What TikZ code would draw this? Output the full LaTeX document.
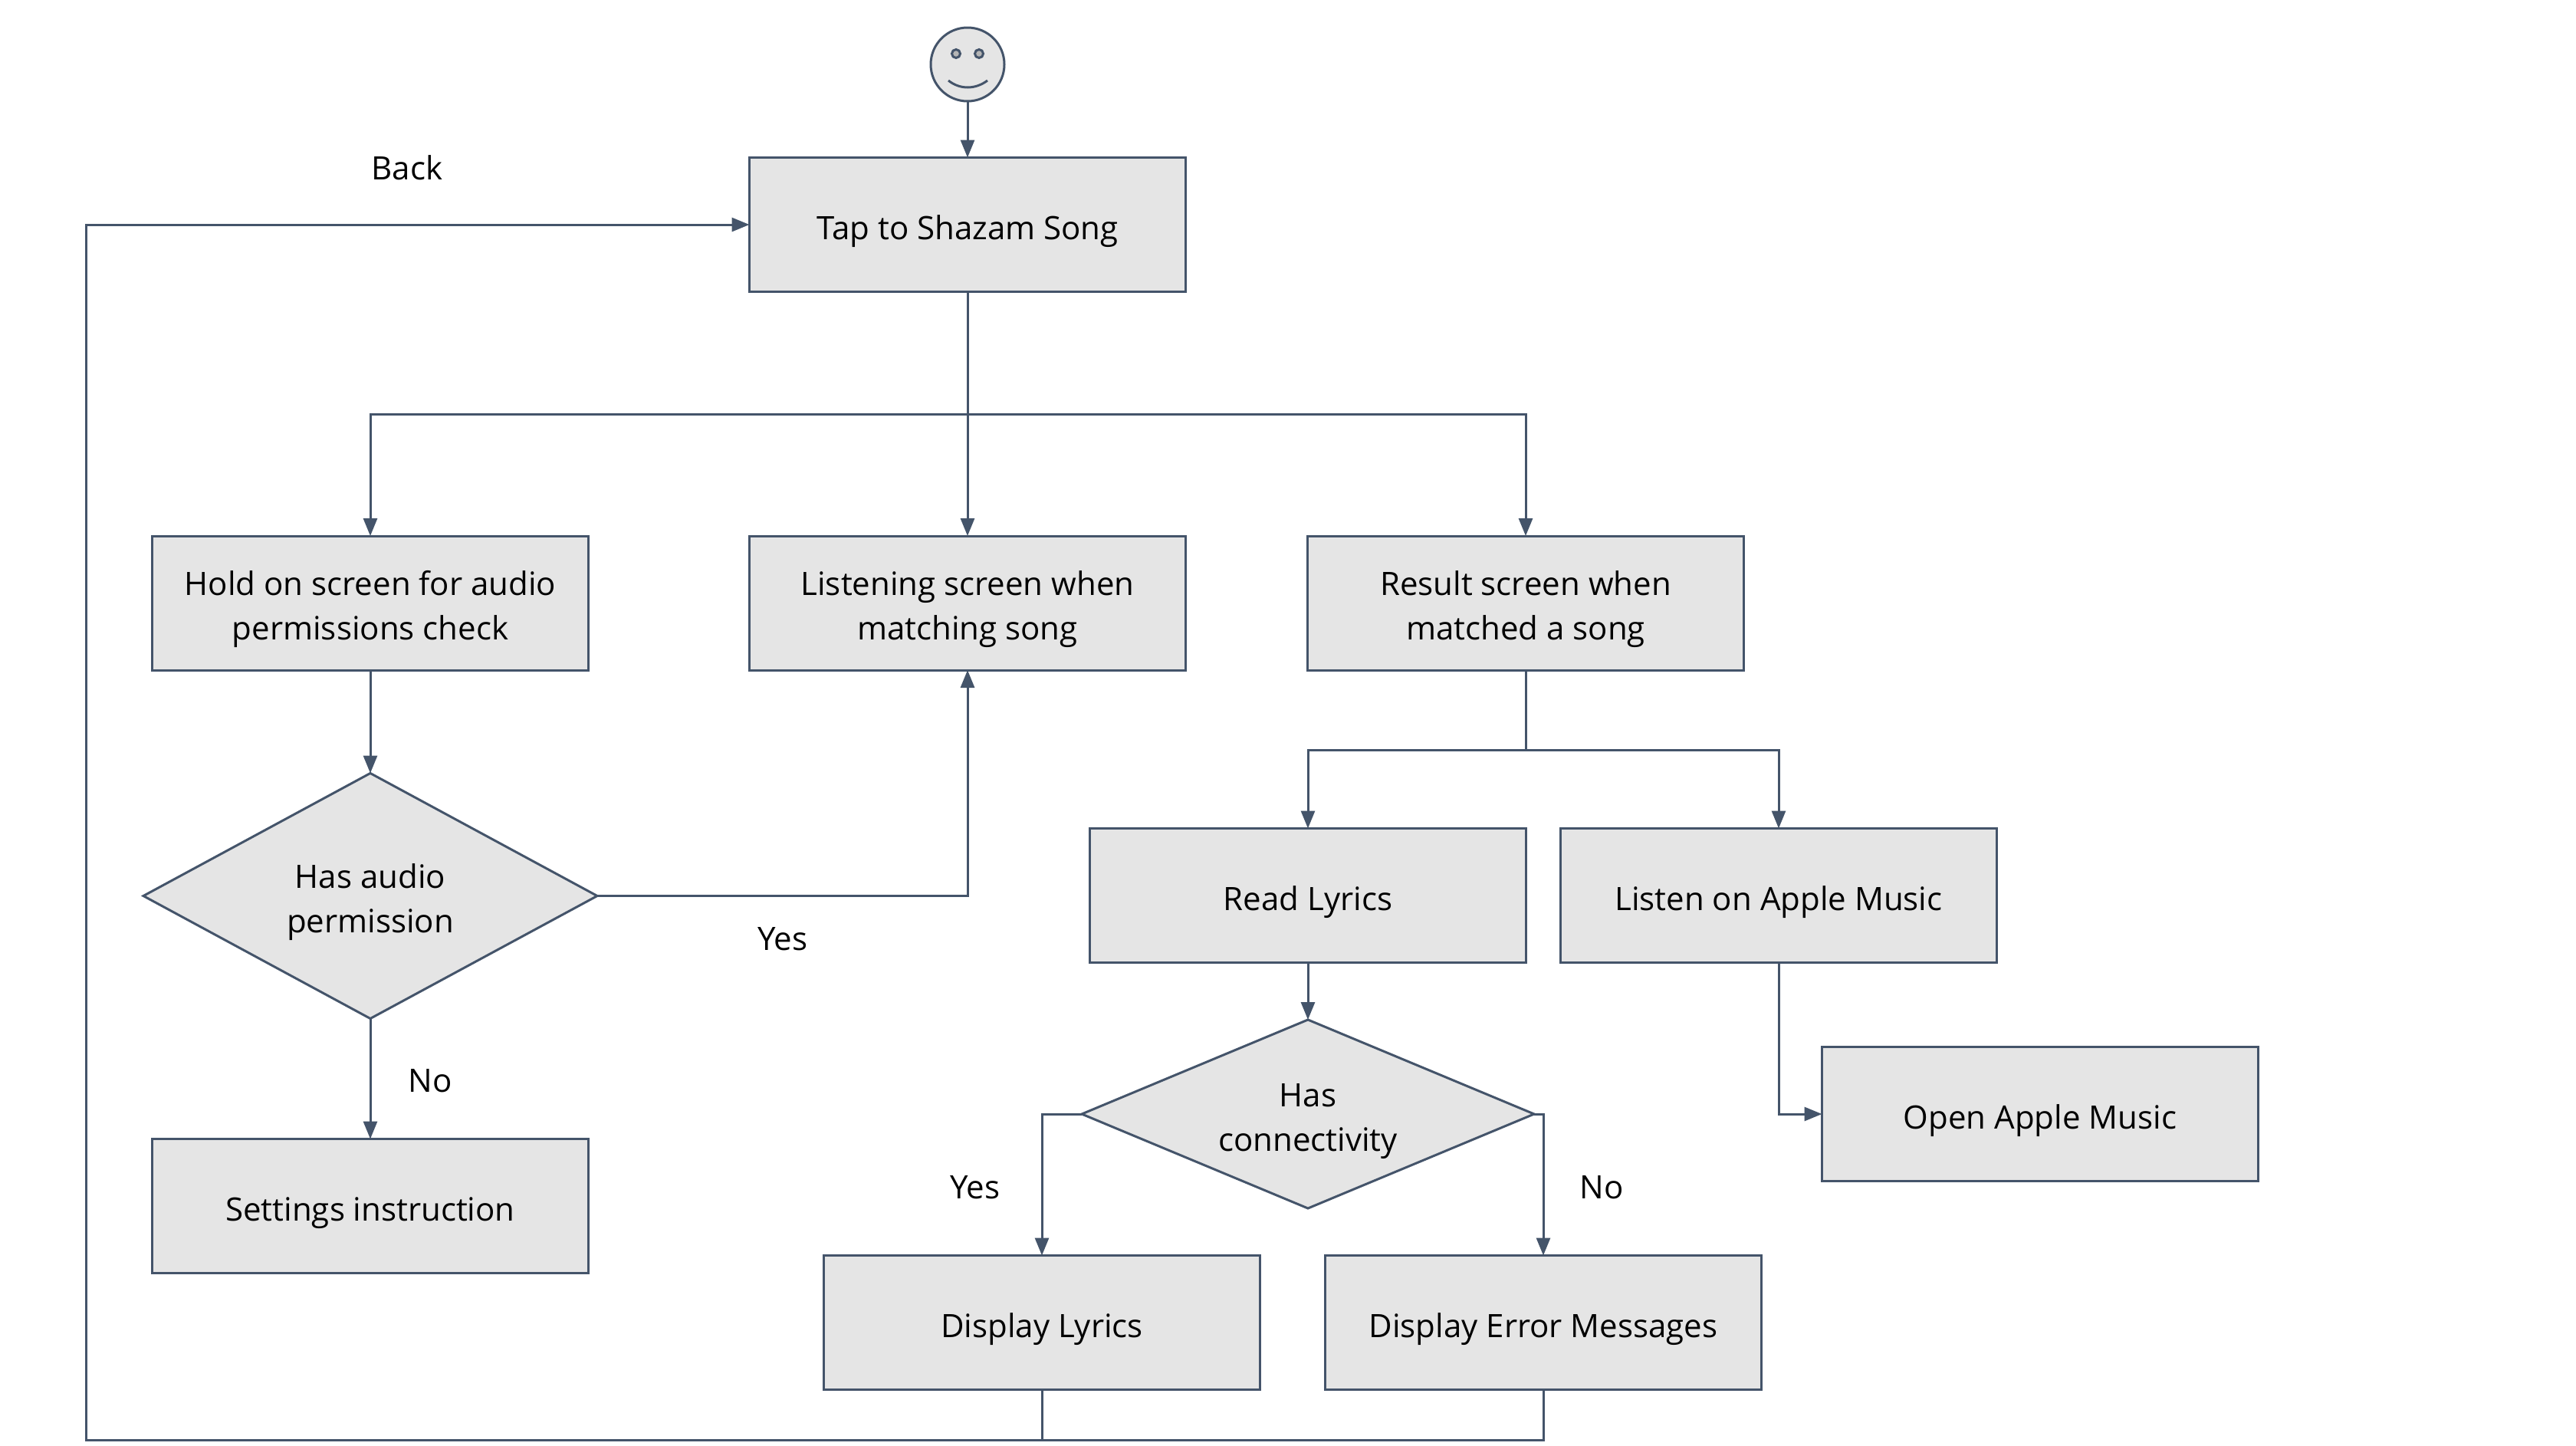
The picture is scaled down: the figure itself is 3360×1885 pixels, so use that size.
\documentclass[tikz,border=0pt]{standalone}
\usepackage{fontspec}
\setmainfont{Open Sans}
\usetikzlibrary{arrows.meta,shapes.geometric}
\definecolor{edge}{HTML}{44546A}
\definecolor{boxfill}{HTML}{E5E5E5}
\definecolor{eyefill}{HTML}{B5B5B5}
\newcommand{\pairtext}[2]{\begin{tabular}{@{}c@{}}\rule{0pt}{56pt}#1\\#2\end{tabular}}
\tikzset{
  base/.style={draw=edge,line width=3pt,fill=boxfill,inner sep=0pt,outer sep=0pt,align=center,font=\fontsize{42}{58}\selectfont},
  oneline/.style={execute at begin node={\rule{0pt}{49pt}}},
  stepbox/.style={base,rectangle,minimum width=569pt,minimum height=175pt},
  decision/.style={base,diamond,shape aspect=1.84,minimum width=592pt},
  spot/.style={draw=edge,line width=3pt,inner sep=0pt,outer sep=0pt,circle},
  lbl/.style={font=\fontsize{42}{58}\selectfont,inner sep=0pt},
  conn/.style={draw=edge,line width=3pt},
  arr/.style={conn,-{Triangle[length=23pt,width=18pt]}}
}
\begin{document}
\begin{tikzpicture}[x=1pt,y=-1pt]
\useasboundingbox (0,0) rectangle (3360,1885);
% nodes
\node[spot,fill=boxfill,minimum size=96pt] (face) at (1262,84) {};
\node[spot,fill=eyefill,minimum size=11pt] (eyeL) at (1247,70) {};
\node[spot,fill=eyefill,minimum size=11pt] (eyeR) at (1277,70) {};
\draw[conn] (1237,105) .. controls (1252,117) and (1272,117) .. (1288,105);
\node[stepbox,oneline] (tap) at (1262,293) {Tap to Shazam Song};
\node[stepbox] (hold) at (483,786.5) {\pairtext{Hold on screen for audio}{permissions check}};
\node[stepbox] (listening) at (1262,786.5) {\pairtext{Listening screen when}{matching song}};
\node[stepbox] (result) at (1990,786.5) {\pairtext{Result screen when}{matched a song}};
\node[stepbox,oneline] (read) at (1706,1168) {Read Lyrics};
\node[stepbox,oneline] (apple) at (2320,1168) {Listen on Apple Music};
\node[stepbox,oneline] (open) at (2661,1453) {Open Apple Music};
\node[stepbox,oneline] (settings) at (483,1573) {Settings instruction};
\node[stepbox,oneline] (lyrics) at (1359,1725) {Display Lyrics};
\node[stepbox,oneline] (error) at (2013,1725) {Display Error Messages};
\node[decision,minimum height=320pt] (audio) at (483,1168.5) {\pairtext{Has audio}{permission}};
\node[decision,shape aspect=2.37,minimum height=246pt,minimum width=590pt] (conn) at (1706,1453) {\pairtext{Has}{connectivity}};
\node[lbl] (back) at (531,219) {Back};
\node[lbl] (yesA) at (1021,1225) {Yes};
\node[lbl] (noA) at (561,1410) {No};
\node[lbl] (yesB) at (1272,1549) {Yes};
\node[lbl] (noB) at (2089,1549) {No};
% coordinates
\coordinate (split) at (1262,540);
\coordinate (split2) at (1990,978);
\coordinate (return) at (112,1878);
% connectors
\draw[arr] (face) -- (tap);
\draw[arr] (tap) -- (listening);
\draw[arr] (split) -| (hold);
\draw[arr] (split) -| (result);
\draw[arr] (hold) -- (audio);
\draw[arr] (audio.east) -| (listening.south);
\draw[arr] (audio) -- (settings);
\draw[arr] (result.south) |- (split2) -| (read.north);
\draw[arr] (split2) -| (apple.north);
\draw[arr] (read) -- (conn);
\draw[arr] (conn.west) -| (lyrics.north);
\draw[arr] (conn.east) -| (error.north);
\draw[arr] (apple.south) |- (open.west);
\draw[arr] (lyrics.south) |- (return) |- (tap.west);
\draw[conn] (error.south) |- (lyrics.south |- return);
\end{tikzpicture}
\end{document}
